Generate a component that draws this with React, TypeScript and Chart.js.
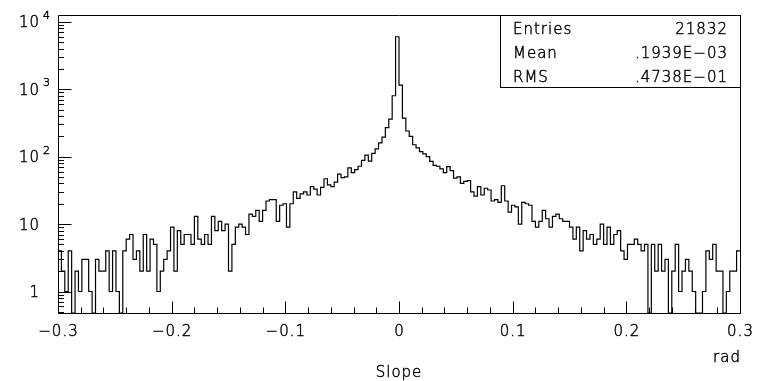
import React, { useEffect, useRef } from 'react';
import { Chart, registerables } from 'chart.js';

Chart.register(...registerables);

// ---- data ----
const X_MIN = -0.3;
const X_MAX = 0.3;
const Y_MIN = 0.48;
const Y_MAX = 12600;

// 200 bins of width 0.003 from -0.3 to 0.3
const counts: number[] = [
  4, 2, 1, 4, 0, 2, 1, 3, 3, 1,
  0, 3, 2, 2, 4, 1, 4, 1, 0, 4,
  6, 7, 3, 4, 2, 7, 2, 6, 5, 1,
  2, 3, 4, 9, 2, 8, 5, 7, 7, 5,
  13, 6, 5, 7, 5, 13, 8, 11, 8, 10,
  2, 5, 9, 10, 9, 7, 14, 13, 16, 11,
  16, 22, 23, 23, 11, 19, 20, 9, 20, 30,
  24, 28, 30, 27, 36, 33, 27, 35, 47, 38,
  36, 42, 55, 49, 50, 68, 58, 64, 72, 88,
  105, 86, 112, 130, 160, 195, 270, 360, 800, 6000,
  1150, 372, 240, 200, 150, 135, 119, 110, 100, 85,
  74, 72, 66, 58, 71, 62, 48, 50, 40, 43,
  44, 30, 26, 36, 27, 34, 32, 22, 23, 21,
  37, 22, 15, 19, 18, 10, 21, 20, 19, 11,
  9, 11, 16, 12, 9, 13, 14, 12, 11, 11,
  9, 6, 9, 4, 8, 6, 7, 5, 6, 10,
  5, 9, 5, 7, 8, 4, 3, 5, 5, 6,
  5, 4, 5, 0, 5, 2, 5, 2, 3, 0,
  2, 5, 1, 2, 3, 2, 1, 0, 0, 1,
  4, 3, 5, 2, 2, 0, 1, 2, 2, 4,
];

const xMajorTicks = [-0.3, -0.2, -0.1, 0, 0.1, 0.2, 0.3];
const xTickLabels = ['\u22120.3', '\u22120.2', '\u22120.1', '0', '0.1', '0.2', '0.3'];
const xMinorStep = 0.02;
const yDecades = [1, 10, 100, 1000, 10000];
const yMantissas = ['1', '10', '10', '10', '10'];
const yExponents = ['', '', '2', '3', '4'];
const statsLabels = ['Entries', 'Mean', 'RMS'];
const statsValues = ['21832', '.1939E\u221203', '.4738E\u221201'];
const xTitle = 'Slope';
const xUnit = 'rad';

const FONT = '"DejaVu Sans", "Liberation Sans", sans-serif';
const W = '200 ';

function text(ctx: CanvasRenderingContext2D, s: string, x: number, y: number) {
  ctx.fillText(s, x, y);
  ctx.strokeText(s, x, y);
}

const decorPlugin = {
  id: 'pawDecor',
  afterDraw(chart: any) {
    const ctx: CanvasRenderingContext2D = chart.ctx;
    const { left, right, top, bottom } = chart.chartArea;
    const xs = chart.scales.x;
    const ys = chart.scales.y;
    const L = Math.floor(left) + 0.5;
    const R = Math.floor(right) + 0.5;
    const T = Math.floor(top) + 0.5;
    const B = Math.floor(bottom) + 0.5;
    ctx.save();
    ctx.strokeStyle = '#000';
    ctx.fillStyle = '#000';
    ctx.lineWidth = 1;

    // frame
    ctx.beginPath();
    ctx.moveTo(L, T); ctx.lineTo(R, T); ctx.lineTo(R, B); ctx.lineTo(L, B); ctx.closePath();
    ctx.stroke();

    // x ticks
    const nSteps = Math.round((X_MAX - X_MIN) / xMinorStep);
    ctx.beginPath();
    for (let k = 0; k <= nSteps; k++) {
      const v = X_MIN + k * xMinorStep;
      const px = Math.round(xs.getPixelForValue(v)) + 0.5;
      const len = k % 5 === 0 ? 12 : 6;
      ctx.moveTo(px, B);
      ctx.lineTo(px, B - len);
    }
    // y ticks
    for (let e = -1; e <= 4; e++) {
      const d = Math.pow(10, e);
      for (let m = 1; m <= 9; m++) {
        const v = m * d;
        if (v < Y_MIN || v > Y_MAX) continue;
        const py = Math.round(ys.getPixelForValue(v)) + 0.5;
        const len = m === 1 ? 13 : 5.5;
        ctx.moveTo(L, py);
        ctx.lineTo(L + len, py);
      }
    }
    ctx.stroke();

    // stats box
    const bx = 500.5;
    const by = T;
    const bh = 72;
    ctx.fillStyle = '#fff';
    ctx.fillRect(bx, by, R - bx, bh);
    ctx.fillStyle = '#000';
    ctx.strokeRect(bx, by, R - bx, bh);

    ctx.font = W + '15px ' + FONT;
    (ctx as any).letterSpacing = '1px';
    ctx.textBaseline = 'alphabetic';
    ctx.lineWidth = 0.45;

    // x labels
    ctx.textAlign = 'center';
    xMajorTicks.forEach((v, i) => {
      const px = xs.getPixelForValue(v);
      text(ctx, xTickLabels[i], px + 0.5, 335.5);
    });

    // y labels
    yDecades.forEach((v, i) => {
      const py = ys.getPixelForValue(v);
      ctx.font = W + '15px ' + FONT;
      ctx.textAlign = 'right';
      text(ctx, yMantissas[i], 40, py + 5.5);
      if (yExponents[i]) {
        ctx.font = W + '11px ' + FONT;
        ctx.textAlign = 'left';
        text(ctx, yExponents[i], 43, py - 3);
      }
    });

    // axis titles
    ctx.font = W + '15px ' + FONT;
    ctx.textAlign = 'center';
    text(ctx, xTitle, 399, 376.5);
    ctx.textAlign = 'right';
    text(ctx, xUnit, 741, 361.5);

    // stats text
    const baselines = [33.5, 57.5, 81.5];
    statsLabels.forEach((lab, i) => {
      ctx.textAlign = 'left';
      text(ctx, lab, 513, baselines[i]);
      ctx.textAlign = 'right';
      text(ctx, statsValues[i], 728, baselines[i]);
    });
    ctx.restore();
  },
};

export default function App() {
  const canvasRef = useRef<HTMLCanvasElement | null>(null);

  useEffect(() => {
    const canvas = canvasRef.current;
    if (!canvas) return;
    const binWidth = (X_MAX - X_MIN) / counts.length;
    const points = counts.map((c, i) => ({ x: X_MIN + i * binWidth, y: c > 0 ? c : Y_MIN }));
    points.push({ x: X_MAX, y: points[points.length - 1].y });

    const chart = new Chart(canvas, {
      type: 'line',
      data: {
        datasets: [
          {
            data: points,
            stepped: 'before',
            borderColor: '#000',
            borderWidth: 1.2,
            pointRadius: 0,
            fill: false,
            tension: 0,
          } as any,
        ],
      },
      options: {
        responsive: false,
        animation: false,
        devicePixelRatio: 1,
        layout: { padding: { left: 58, right: 22, top: 15, bottom: 68 } },
        plugins: { legend: { display: false }, tooltip: { enabled: false }, title: { display: false } },
        scales: {
          x: { type: 'linear', display: false, min: X_MIN, max: X_MAX, bounds: 'data' },
          y: { type: 'logarithmic', display: false, min: Y_MIN, max: Y_MAX, bounds: 'data' },
        },
      } as any,
      plugins: [decorPlugin],
    });
    return () => chart.destroy();
  }, []);

  return (
    <div style={{ position: 'fixed', left: 0, top: 0, width: 762, height: 381, background: '#fff' }}>
      <canvas ref={canvasRef} width={762} height={381} />
    </div>
  );
}
